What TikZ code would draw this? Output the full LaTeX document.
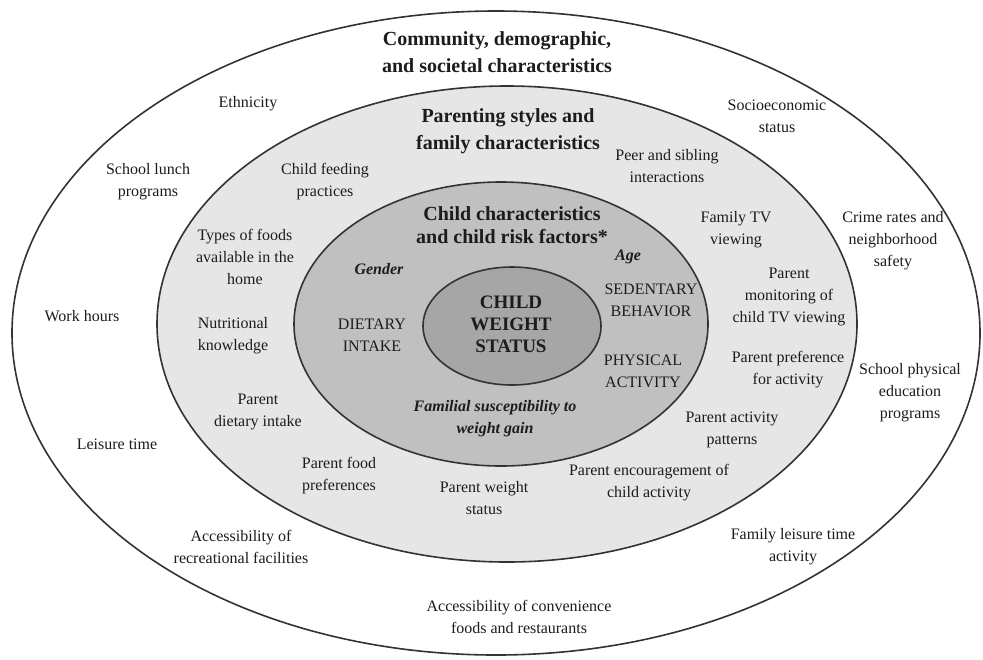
\documentclass[tikz,border=0pt]{standalone}
\usepackage{fontspec}
\setmainfont{Liberation Serif}
\definecolor{ringA}{HTML}{E6E6E6}
\definecolor{ringB}{HTML}{C0C0C0}
\definecolor{ringC}{HTML}{A6A6A6}
\definecolor{ink}{HTML}{1C1C1C}
\tikzset{
  lbl/.style={align=center, inner sep=0pt, text=ink, font=\fontsize{8}{11}\selectfont},
  hdr/.style={lbl, font=\fontsize{10}{13.5}\selectfont\bfseries},
  risk/.style={lbl, font=\fontsize{8}{11}\selectfont\bfseries\itshape},
  ring/.style={draw=ink!90, line width=0.8pt}
}
\begin{document}
\begin{tikzpicture}[x=0.5pt, y=-0.5pt]
    \useasboundingbox (0,0) rectangle (983,659);

    % Elipses concentricas
    \draw[ring, fill=white] (496,333) ellipse [x radius=484, y radius=322];
    \draw[ring, fill=ringA] (507,324) ellipse [x radius=350, y radius=238];
    \draw[ring, fill=ringB] (501,324) ellipse [x radius=207, y radius=142];
    \draw[ring, fill=ringC] (512,326) ellipse [x radius=89, y radius=59];

    % Anillo exterior
    \node[hdr] (comm) at (497,52) {Community, demographic,\\and societal characteristics};
    \node[lbl] (ethnic) at (248,104) {Ethnicity};
    \node[lbl] (socio) at (777,116) {Socioeconomic\\status};
    \node[lbl] (lunch) at (148,182) {School lunch\\programs};
    \node[lbl] (crime) at (893,241) {Crime rates and\\neighborhood\\safety};
    \node[lbl] (work) at (82,316) {Work hours};
    \node[lbl] (schoolpe) at (910,393) {School physical\\education\\programs};
    \node[lbl] (leisure) at (117,444) {Leisure time};
    \node[lbl] (recfac) at (241,547) {Accessibility of\\recreational facilities};
    \node[lbl] (famleis) at (793,547) {Family leisure time\\activity};
    \node[lbl] (conven) at (519,617) {Accessibility of convenience\\foods and restaurants};

    % Anillo de la familia
    \node[hdr] (parent) at (508,131) {Parenting styles and\\family characteristics};
    \node[lbl] (feeding) at (325,182) {Child feeding\\practices};
    \node[lbl] (peer) at (667,166) {Peer and sibling\\interactions};
    \node[lbl] (famtv) at (736,230) {Family TV\\viewing};
    \node[lbl] (foods) at (245,257) {Types of foods\\available in the\\home};
    \node[lbl] (monitor) at (789,297) {Parent\\monitoring of\\child TV viewing};
    \node[lbl] (nutri) at (233,336) {Nutritional\\knowledge};
    \node[lbl] (prefact) at (788,370) {Parent preference\\for activity};
    \node[lbl] (pdiet) at (258,412) {Parent\\dietary intake};
    \node[lbl] (pactiv) at (732,430) {Parent activity\\patterns};
    \node[lbl] (pfood) at (339,476) {Parent food\\preferences};
    \node[lbl] (pencour) at (649,483) {Parent encouragement of\\child activity};
    \node[lbl] (pweight) at (484,498) {Parent weight\\status};

    % Anillo del nino
    \node[hdr, font=\fontsize{10}{11.5}\selectfont\bfseries] (childchar) at (512,225)
        {Child characteristics\\and child risk factors*};
    \node[risk] (gender) at (379,269) {Gender};
    \node[risk] (age) at (628,257) {Age};
    \node[lbl] (sedent) at (651,300) {SEDENTARY\\BEHAVIOR};
    \node[lbl] (diet) at (372,335) {DIETARY\\INTAKE};
    \node[lbl] (phys) at (643,371) {PHYSICAL\\ACTIVITY};
    \node[risk] (familial) at (495,419) {Familial susceptibility to\\weight gain};

    % Centro
    \node[lbl, font=\fontsize{9.5}{11}\selectfont\bfseries] (cws) at (511,324)
        {CHILD\\WEIGHT\\STATUS};
\end{tikzpicture}
\end{document}
